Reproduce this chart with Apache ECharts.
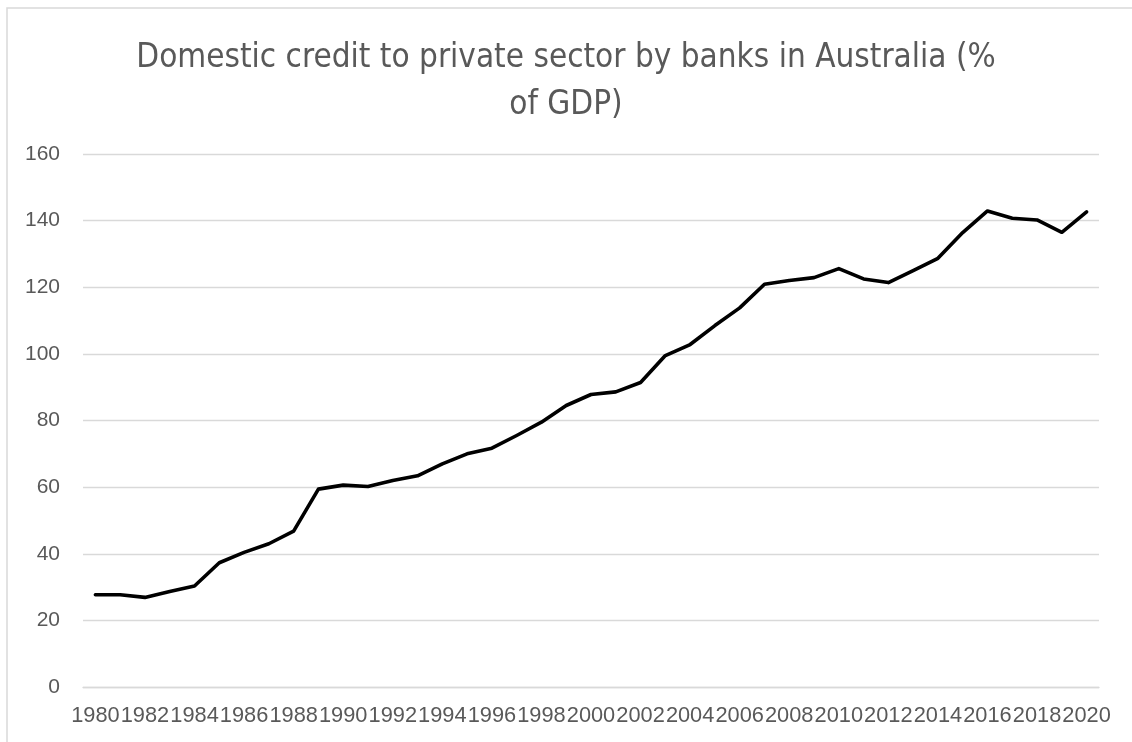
<!DOCTYPE html>
<html>
<head>
<meta charset="utf-8">
<script src="https://cdn.jsdelivr.net/npm/echarts@6/dist/echarts.min.js"></script>
<style>
  html, body { margin: 0; padding: 0; background: #ffffff; }
  #chart { width: 1132px; height: 742px; }
</style>
</head>
<body>
<div id="chart"></div>
<script>
// Domestic credit to private sector by banks, Australia, % of GDP
const years = [
  '1980','1981','1982','1983','1984','1985','1986','1987','1988','1989',
  '1990','1991','1992','1993','1994','1995','1996','1997','1998','1999',
  '2000','2001','2002','2003','2004','2005','2006','2007','2008','2009',
  '2010','2011','2012','2013','2014','2015','2016','2017','2018','2019','2020'
];
const creditPctGdp = [
  27.7, 27.7, 26.9, 28.7, 30.3, 37.3, 40.4, 43.0, 46.8, 59.4,
  60.6, 60.2, 62.0, 63.4, 67.0, 70.0, 71.7, 75.5, 79.5, 84.5,
  87.8, 88.6, 91.4, 99.5, 102.8, 108.5, 113.8, 120.9, 122.0, 122.9,
  125.6, 122.5, 121.4, 125.0, 128.7, 136.4, 142.9, 140.7, 140.2, 136.5, 142.6
];
const titleText = 'Domestic credit to private sector by banks in Australia (%\nof GDP)';
const yMin = 0, yMax = 160, yStep = 20;

const textColor = '#595959';
const gridColor = '#d9d9d9';
const axisFont = '"Liberation Sans", Arial, sans-serif';
const titleFont = '"Liberation Sans Narrow", "DejaVu Sans Condensed", "Liberation Sans", sans-serif';

const chart = echarts.init(document.getElementById('chart'), null, { renderer: 'canvas' });
chart.setOption({
  animation: false,
  backgroundColor: '#ffffff',
  graphic: [{
    type: 'rect',
    shape: { x: 7, y: 8, width: 1300, height: 900 },
    style: { fill: 'none', stroke: gridColor, lineWidth: 1.5 },
    silent: true,
    z: -1
  }],
  title: {
    text: titleText,
    left: 'center',
    top: 30,
    textStyle: {
      fontFamily: titleFont,
      fontSize: 33,
      fontWeight: 'normal',
      color: textColor,
      lineHeight: 47,
      align: 'center'
    }
  },
  grid: { left: 83, right: 33, top: 154, bottom: 55, containLabel: false },
  xAxis: {
    type: 'category',
    data: years,
    boundaryGap: true,
    axisLine: { show: true, lineStyle: { color: gridColor, width: 1.3 } },
    axisTick: { show: false },
    axisLabel: {
      interval: 1,
      showMinLabel: true,
      showMaxLabel: true,
      hideOverlap: false,
      color: textColor,
      fontFamily: axisFont,
      fontSize: 21.8,
      margin: 18
    },
    splitLine: { show: false }
  },
  yAxis: {
    type: 'value',
    min: yMin,
    max: yMax,
    interval: yStep,
    axisLine: { show: false },
    axisTick: { show: false },
    axisLabel: {
      color: textColor,
      fontFamily: axisFont,
      fontSize: 21,
      margin: 23
    },
    splitLine: { show: true, lineStyle: { color: gridColor, width: 1.3 } }
  },
  series: [{
    type: 'line',
    data: creditPctGdp,
    showSymbol: false,
    symbol: 'none',
    lineStyle: { color: '#000000', width: 3.6, cap: 'round', join: 'round' },
    z: 3
  }]
});
</script>
</body>
</html>
